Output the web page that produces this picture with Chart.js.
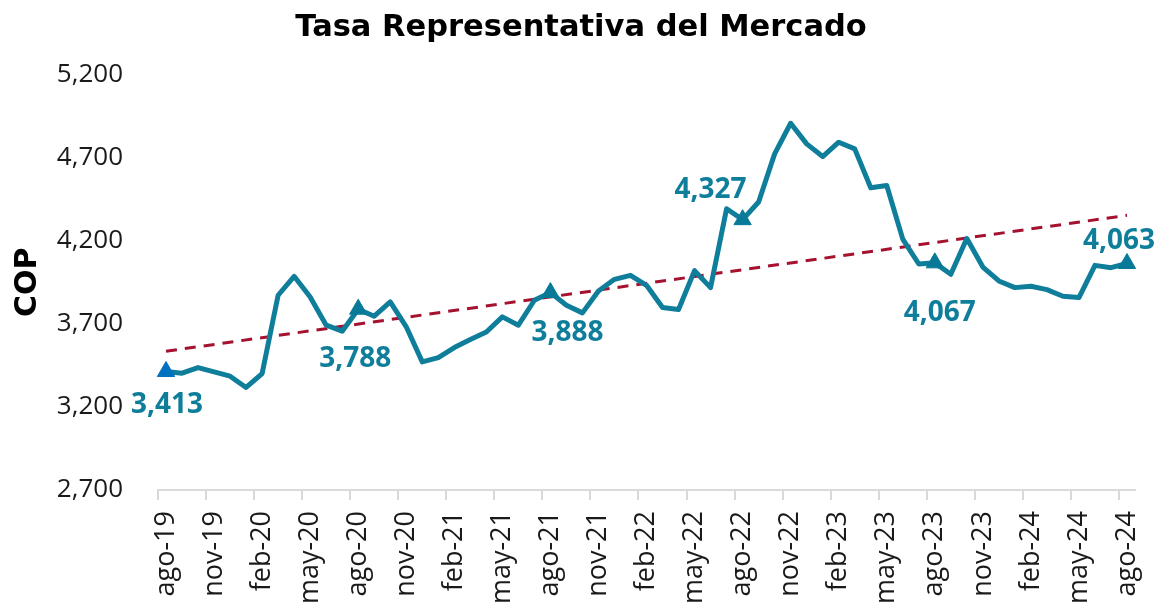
<!DOCTYPE html>
<html>
<head>
<meta charset="utf-8">
<script src="https://cdn.jsdelivr.net/npm/chart.js@4.4.1/dist/chart.umd.min.js"></script>
<style>
html,body{margin:0;padding:0;background:#fff;}
#wrap{width:1162px;height:611px;}
</style>
</head>
<body>
<div id="wrap"><canvas id="c" width="1162" height="611"></canvas></div>
<script>
const categories = [
  'ago-19','sep-19','oct-19','nov-19','dic-19','ene-20','feb-20','mar-20','abr-20','may-20','jun-20','jul-20',
  'ago-20','sep-20','oct-20','nov-20','dic-20','ene-21','feb-21','mar-21','abr-21','may-21','jun-21','jul-21',
  'ago-21','sep-21','oct-21','nov-21','dic-21','ene-22','feb-22','mar-22','abr-22','may-22','jun-22','jul-22',
  'ago-22','sep-22','oct-22','nov-22','dic-22','ene-23','feb-23','mar-23','abr-23','may-23','jun-23','jul-23',
  'ago-23','sep-23','oct-23','nov-23','dic-23','ene-24','feb-24','mar-24','abr-24','may-24','jun-24','jul-24',
  'ago-24'
];
const trmValues = [
  3413,3403,3437,3411,3385,3317,3401,3872,3986,3862,3692,3656,
  3788,3746,3832,3682,3471,3497,3557,3606,3651,3742,3692,3842,
  3888,3812,3766,3898,3968,3992,3932,3798,3786,4020,3918,4393,
  4327,4433,4723,4907,4783,4707,4793,4753,4519,4533,4210,4060,
  4067,3998,4213,4042,3958,3918,3926,3906,3866,3858,4052,4038,
  4063
];
const markerIndices = [0, 12, 24, 36, 48, 60];
const markerLabels = ['3,413', '3,788', '3,888', '4,327', '4,067', '4,063'];
const trendStart = 3535;
const trendEnd = 4353;
const yTicks = [2700, 3200, 3700, 4200, 4700, 5200];

const trendData = categories.map((_, i) => i === 0 ? trendStart : (i === categories.length - 1 ? trendEnd : null));

// label offsets (style only)
const labelOffsets = [[1, 34], [-3, 50], [17, 40], [-32, -30], [5, 50], [-8, -22]];

const LINE = '#0F7E9B';
const MARK = '#087A98';
const FIRST_MARK = '#0070C0';

const labelPlugin = {
  id: 'pointLabels',
  afterDatasetsDraw(chart) {
    const meta = chart.getDatasetMeta(0);
    const ctx = chart.ctx;
    ctx.save();
    ctx.font = 'bold 28px "Open Sans"';
    ctx.fillStyle = LINE;
    ctx.textAlign = 'center';
    ctx.textBaseline = 'middle';
    markerIndices.forEach((idx, k) => {
      const pt = meta.data[idx];
      ctx.fillText(markerLabels[k], pt.x + labelOffsets[k][0], pt.y + labelOffsets[k][1]);
    });
    ctx.restore();
  }
};

new Chart(document.getElementById('c'), {
  type: 'line',
  data: {
    labels: categories,
    datasets: [
      {
        data: trmValues,
        borderColor: LINE,
        borderWidth: 5,
        borderJoinStyle: 'round',
        tension: 0,
        fill: false,
        pointStyle: 'triangle',
        pointRadius: ctx => markerIndices.includes(ctx.dataIndex) ? 10 : 0,
        pointHoverRadius: 0,
        pointBackgroundColor: ctx => ctx.dataIndex === 0 ? FIRST_MARK : MARK,
        pointBorderColor: ctx => ctx.dataIndex === 0 ? FIRST_MARK : MARK,
        pointBorderWidth: 1
      },
      {
        data: trendData,
        spanGaps: true,
        borderColor: '#A5122F',
        borderWidth: 3,
        borderDash: [11, 8],
        pointRadius: 0,
        fill: false,
        tension: 0
      }
    ]
  },
  plugins: [labelPlugin],
  options: {
    responsive: false,
    animation: false,
    events: [],
    layout: { padding: 0 },
    plugins: {
      legend: { display: false },
      tooltip: { enabled: false },
      title: {
        display: true,
        text: 'Tasa Representativa del Mercado',
        color: '#000',
        font: { family: '"DejaVu Sans"', weight: 'bold', size: 30.5 },
        padding: { top: 10, bottom: 28 }
      }
    },
    scales: {
      x: {
        type: 'category',
        offset: true,
        grid: {
          display: true,
          offset: true,
          drawOnChartArea: false,
          drawTicks: true,
          tickLength: 10,
          lineWidth: 2,
          color: ctx => (typeof ctx.index === 'number' && ctx.index % 3 === 0) ? '#D9D9D9' : 'rgba(0,0,0,0)'
        },
        border: { display: true, color: '#D9D9D9', width: 2 },
        ticks: {
          autoSkip: false,
          minRotation: 90,
          maxRotation: 90,
          padding: 11,
          color: '#1a1a1a',
          font: { family: '"Open Sans"', size: 27 },
          callback: (v, i) => i % 3 === 0 ? categories[i] : ''
        },
        afterFit: s => { s.height = 121; s.paddingRight = 27; s.paddingLeft = 0; }
      },
      y: {
        min: 2700,
        max: 5200,
        afterBuildTicks: s => { s.ticks = yTicks.map(v => ({ value: v })); },
        grid: { display: false, drawTicks: false },
        border: { display: false },
        ticks: {
          padding: 35,
          color: '#1a1a1a',
          font: { family: '"Open Sans"', size: 26 },
          callback: v => v.toLocaleString('en-US')
        },
        title: {
          display: true,
          text: 'COP',
          color: '#000',
          font: { family: '"DejaVu Sans"', weight: 'bold', size: 30 },
          padding: { top: 10, bottom: 0 }
        },
        afterFit: s => { s.width = 158; }
      }
    }
  }
});
</script>
</body>
</html>
